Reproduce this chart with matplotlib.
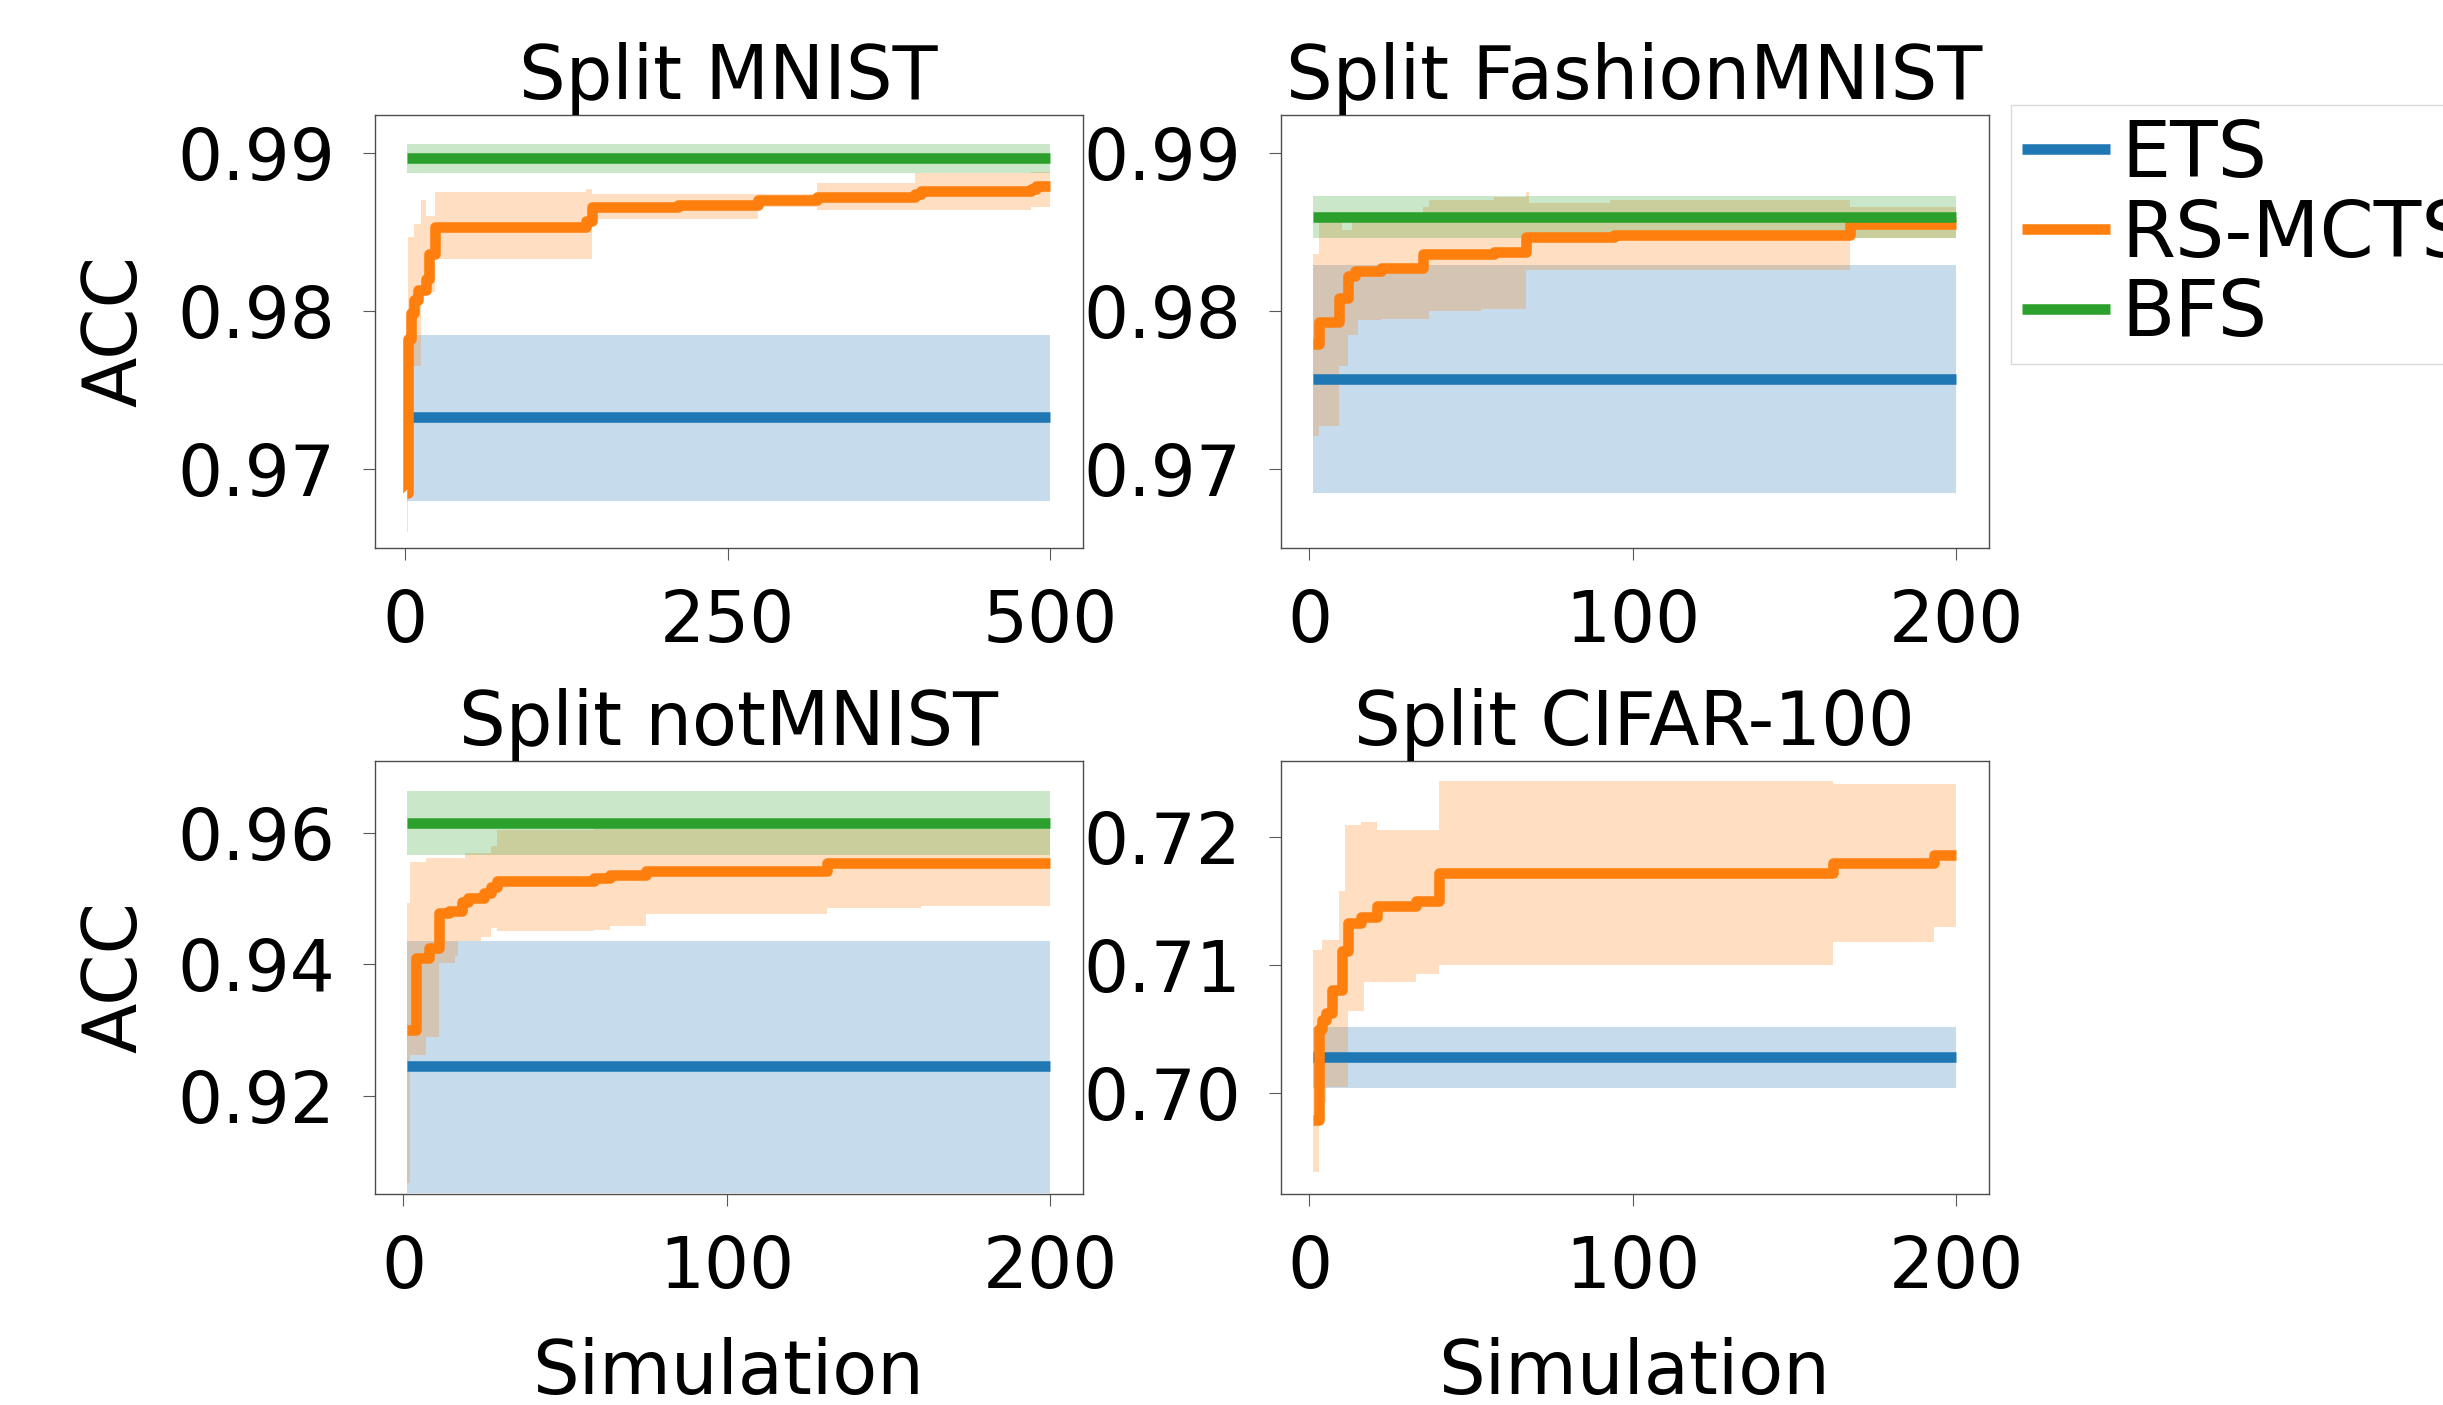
import matplotlib
matplotlib.use("Agg")
import matplotlib.pyplot as plt
from matplotlib.ticker import FormatStrFormatter

plt.rcParams["font.family"] = "DejaVu Sans"

titles = ["Split MNIST", "Split FashionMNIST", "Split notMNIST", "Split CIFAR-100"]

# ETS and BFS are flat: mean with lower / upper band edge
ets_mean = [0.9733, 0.9757, 0.9245, 0.7028]
ets_lo = [0.9680, 0.9685, 0.9053, 0.7004]
ets_hi = [0.9785, 0.9829, 0.9436, 0.7052]
bfs_mean = [0.98965, 0.98596, 0.96152, None]   # no BFS run on CIFAR-100
bfs_lo = [0.98875, 0.98463, 0.95660, None]
bfs_hi = [0.99058, 0.98728, 0.96633, None]

# RS-MCTS best-so-far accuracy, step breakpoints (simulation index)
mnist_x = [1, 2, 4, 7, 10, 12, 16, 18, 23, 140, 145, 211, 273, 319, 395, 400, 485, 489, 500]
mnist_mean = [0.9685, 0.9782, 0.9799, 0.9807, 0.9813, 0.9813, 0.9820, 0.9836, 0.9853, 0.9857,
              0.9866, 0.9867, 0.9870, 0.9872, 0.9874, 0.9876, 0.9877, 0.9879, 0.9879]
mnist_lo = [0.9660, 0.9765, 0.9765, 0.9765, 0.9765, 0.9812, 0.9812, 0.9812, 0.9833, 0.9833,
            0.9858, 0.9858, 0.9866, 0.9864, 0.9864, 0.9864, 0.9866, 0.9866, 0.9866]
mnist_hi = [0.9780, 0.9847, 0.9847, 0.9855, 0.9855, 0.9870, 0.9860, 0.9860, 0.9875, 0.9877,
            0.9874, 0.9874, 0.9874, 0.9881, 0.9887, 0.9887, 0.9888, 0.9888, 0.9888]

fashion_x = [1, 3, 9, 10, 12, 13, 14, 15, 22, 35, 37, 53, 57, 67, 68, 93, 94, 167, 200]
fashion_mean = [0.9779, 0.9793, 0.9808, 0.9808, 0.9822, 0.9822, 0.9825, 0.9825, 0.9827, 0.9836,
                0.9836, 0.9836, 0.9837, 0.9847, 0.9847, 0.9847, 0.9848, 0.9855, 0.9855]
fashion_lo = [0.9721, 0.9727, 0.9765, 0.9765, 0.9785, 0.9785, 0.9785, 0.9794, 0.9795, 0.9795,
              0.9800, 0.9801, 0.9801, 0.9826, 0.9826, 0.9826, 0.9826, 0.9846, 0.9846]
fashion_hi = [0.9836, 0.9856, 0.9856, 0.9851, 0.9851, 0.9856, 0.9856, 0.9856, 0.9856, 0.9866,
              0.9870, 0.9870, 0.9872, 0.9875, 0.9868, 0.9870, 0.9870, 0.9866, 0.9866]

notmnist_x = [1, 2, 4, 7, 8, 11, 14, 16, 17, 18, 19, 20, 24, 25, 27, 29, 59, 64, 75, 131, 160, 200]
notmnist_mean = [0.9300, 0.9300, 0.9409, 0.9409, 0.9424, 0.9478, 0.9481, 0.9481, 0.9481, 0.9495,
                 0.9495, 0.9500, 0.9500, 0.9508, 0.9518, 0.9527, 0.9531, 0.9536, 0.9542, 0.9553,
                 0.9554, 0.9554]
notmnist_lo = [0.9067, 0.9262, 0.9262, 0.9290, 0.9290, 0.9402, 0.9402, 0.9412, 0.9436, 0.9436,
               0.9436, 0.9436, 0.9442, 0.9442, 0.9455, 0.9450, 0.9452, 0.9458, 0.9476, 0.9485,
               0.9488, 0.9488]
notmnist_hi = [0.9493, 0.9556, 0.9556, 0.9561, 0.9561, 0.9561, 0.9561, 0.9561, 0.9561, 0.9561,
               0.9569, 0.9569, 0.9569, 0.9569, 0.9579, 0.9604, 0.9606, 0.9606, 0.9606, 0.9606,
               0.9606, 0.9606]

cifar_x = [1, 3, 4, 5, 7, 9, 10, 11, 12, 16, 17, 21, 33, 40, 162, 193, 200]
cifar_mean = [0.6979, 0.7050, 0.7057, 0.7063, 0.7081, 0.7081, 0.7111, 0.7111, 0.7133, 0.7138,
              0.7138, 0.7146, 0.7150, 0.7172, 0.7180, 0.7186, 0.7186]
cifar_lo = [0.6938, 0.6992, 0.6992, 0.7005, 0.7005, 0.7005, 0.7005, 0.7005, 0.7064, 0.7064,
            0.7087, 0.7087, 0.7093, 0.7100, 0.7118, 0.7130, 0.7130]
cifar_hi = [0.7112, 0.7112, 0.7120, 0.7120, 0.7120, 0.7158, 0.7158, 0.7210, 0.7210, 0.7212,
            0.7212, 0.7206, 0.7206, 0.7244, 0.7242, 0.7242, 0.7242]

rs_x = [mnist_x, fashion_x, notmnist_x, cifar_x]
rs_mean = [mnist_mean, fashion_mean, notmnist_mean, cifar_mean]
rs_lo = [mnist_lo, fashion_lo, notmnist_lo, cifar_lo]
rs_hi = [mnist_hi, fashion_hi, notmnist_hi, cifar_hi]

ylims = [(0.9650, 0.9924), (0.9650, 0.9924), (0.9051, 0.9709), (0.6921, 0.7260)]
yticks = [[0.97, 0.98, 0.99], [0.97, 0.98, 0.99], [0.92, 0.94, 0.96], [0.70, 0.71, 0.72]]
xticks = [[0, 250, 500], [0, 100, 200], [0, 100, 200], [0, 100, 200]]

C_ETS, C_RS, C_BFS = "#1f77b4", "#ff7f0e", "#2ca02c"
FS = 53
LW = 7.6
BAND = 0.25

fig, axes = plt.subplots(2, 2, figsize=(24.43, 14.05), dpi=100)
fig.subplots_adjust(left=0.1533, right=0.8140, top=0.9182, bottom=0.1502,
                    wspace=0.2795, hspace=0.491)

for i, ax in enumerate(axes.flat):
    x = rs_x[i]
    ends = [x[0], x[-1]]

    ax.fill_between(ends, ets_lo[i], ets_hi[i], color=C_ETS, alpha=BAND, lw=0)
    h_ets, = ax.plot(ends, [ets_mean[i]] * 2, color=C_ETS, lw=LW, solid_capstyle="butt")

    ax.fill_between(x, rs_lo[i], rs_hi[i], step="post", color=C_RS, alpha=BAND, lw=0)
    h_rs, = ax.plot(x, rs_mean[i], drawstyle="steps-post", color=C_RS, lw=LW,
                    solid_capstyle="butt")

    if bfs_mean[i] is not None:
        ax.fill_between(ends, bfs_lo[i], bfs_hi[i], color=C_BFS, alpha=BAND, lw=0)
        h_bfs, = ax.plot(ends, [bfs_mean[i]] * 2, color=C_BFS, lw=LW, solid_capstyle="butt")

    ax.set_ylim(*ylims[i])
    ax.set_yticks(yticks[i])
    ax.set_xticks(xticks[i])
    ax.yaxis.set_major_formatter(FormatStrFormatter("%.2f"))
    ax.set_title(titles[i], fontsize=FS, pad=10.8)
    ax.tick_params(labelsize=51, length=8.6, width=0.8, color="0.35", pad=20)
    for s in ax.spines.values():
        s.set_color("0.3")
        s.set_linewidth(1.0)

    if i % 2 == 0:
        ax.set_ylabel("ACC", fontsize=FS)
        ax.yaxis.set_label_coords(-0.313, 0.5)
    if i >= 2:
        ax.set_xlabel("Simulation", fontsize=FS)
        ax.xaxis.set_label_coords(0.5, -0.33)

fig.legend([h_ets, h_rs, h_bfs], ["ETS", "RS-MCTS", "BFS"], loc="upper left",
           bbox_to_anchor=(0.823, 0.9253), borderaxespad=0, fontsize=56,
           fancybox=False, edgecolor="0.85", framealpha=1,
           handlelength=1.13, handletextpad=0.15, labelspacing=0.05, borderpad=0.15)

fig.savefig("out.png", dpi=100)
